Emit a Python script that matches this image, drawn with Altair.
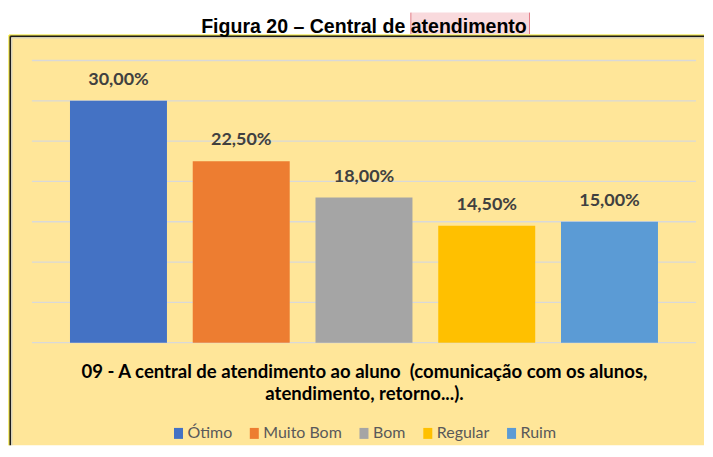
import altair as alt
import pandas as pd

categories = ["Ótimo", "Muito Bom", "Bom", "Regular", "Ruim"]
values = [0.30, 0.225, 0.18, 0.145, 0.15]
colors = ["#4472C4", "#ED7D31", "#A5A5A5", "#FFC000", "#5B9BD5"]
figure_title = "Figura 20 – Central de atendimento"
axis_title = ["09 - A central de atendimento ao aluno\u00a0 (comunicação com os alunos,",
              "atendimento, retorno...)."]
y_ticks = [0, 0.05, 0.10, 0.15, 0.20, 0.25, 0.30, 0.35]

W, H = 666, 283

df = pd.DataFrame({"cat": categories, "v": values})
grid_df = pd.DataFrame({"t": y_ticks})
one = pd.DataFrame({"d": [0]})

y_scale = alt.Scale(domain=[0, 0.35], nice=False, zero=True)

# panel (extends to right/bottom edges of the picture)
panel = alt.Chart(one).mark_rect(fill="#FFE699").encode(
    x=alt.value(-23), x2=alt.value(674), y=alt.value(-25.5), y2=alt.value(386))
edge_y_top = alt.Chart(one).mark_rule(color="#EDE000", strokeWidth=1).encode(
    x=alt.value(-23), x2=alt.value(674), y=alt.value(-25.5))
edge_x_left = alt.Chart(one).mark_rule(color="#EDE000", strokeWidth=1).encode(
    x=alt.value(-23), y=alt.value(-25.5), y2=alt.value(386))
edge_b_top = alt.Chart(one).mark_rule(color="#1c1c1c", strokeWidth=1.6).encode(
    x=alt.value(-21.7), x2=alt.value(674), y=alt.value(-24.2))
edge_b_left = alt.Chart(one).mark_rule(color="#1c1c1c", strokeWidth=1.6).encode(
    x=alt.value(-21.7), y=alt.value(-24.2), y2=alt.value(386))
edge_g_top = alt.Chart(one).mark_rule(color="#D8D4C0", strokeWidth=1.4).encode(
    x=alt.value(-20.2), x2=alt.value(674), y=alt.value(-22.7))
edge_g_left = alt.Chart(one).mark_rule(color="#D8D4C0", strokeWidth=1.4).encode(
    x=alt.value(-20.2), y=alt.value(-22.7), y2=alt.value(386))

hl = alt.Chart(one).mark_rect(fill="#F9DADD").encode(
    x=alt.value(380), x2=alt.value(499), y=alt.value(-48), y2=alt.value(-26.5))
hl_l = alt.Chart(one).mark_rule(color="#E27C88", strokeWidth=1).encode(
    x=alt.value(380), y=alt.value(-48), y2=alt.value(-26.5))
hl_r = alt.Chart(one).mark_rule(color="#E27C88", strokeWidth=1).encode(
    x=alt.value(499), y=alt.value(-48), y2=alt.value(-26.5))

title_txt = alt.Chart(one).mark_text(
    font="Liberation Sans", fontWeight="bold", fontSize=19.6, align="center",
    baseline="alphabetic", color="#000000").encode(
    x=alt.value(W / 2), y=alt.value(-28), text=alt.value(figure_title))

grid = alt.Chart(grid_df).mark_rule(color="#D9D9D9", strokeWidth=1.3).encode(
    y=alt.Y("t:Q", scale=y_scale, axis=None))

x_enc = alt.X("cat:N", sort=categories,
              scale=alt.Scale(paddingInner=0.21, paddingOuter=0.31),
              axis=alt.Axis(labels=False, ticks=False, domain=False, grid=False, zindex=1,
                            title=axis_title, titleFont="Lato", titleFontWeight="bold",
                            titleFontSize=18.6, titleColor="#000000", titleLineHeight=21.7,
                            titleBaseline="alphabetic", titleY=35))
y_enc = alt.Y("v:Q", scale=y_scale, axis=None)

bars = alt.Chart(df).mark_bar().encode(
    x=x_enc, y=y_enc,
    color=alt.Color("cat:N", sort=categories,
                    scale=alt.Scale(domain=categories, range=colors),
                    legend=alt.Legend(orient="none", legendX=139, legendY=366,
                                      direction="horizontal", columns=5, title=None,
                                      symbolType="M-0.82,-1H0.82V1H-0.82Z",
                                      symbolSize=121, symbolStrokeWidth=0,
                                      labelFont="Lato", labelFontSize=16,
                                      labelColor="#595959", labelOffset=1,
                                      columnPadding=14, padding=0)))

labels = alt.Chart(df).transform_calculate(
    label="replace(format(datum.v, '.2%'), '.', ',')"
).mark_text(font="Lato", fontWeight="bold", fontSize=18, color="#404040",
            baseline="alphabetic", dy=-16).encode(
    x=alt.X("cat:N", sort=categories), y=alt.Y("v:Q", scale=y_scale), text="label:N")

chart = alt.layer(panel, edge_y_top, edge_x_left, edge_b_top, edge_b_left,
                  edge_g_top, edge_g_left, hl, hl_l, hl_r, title_txt,
                  grid, bars, labels).properties(
    width=W, height=H, padding={"left": 0, "top": 3, "right": 0, "bottom": 0},
    background="#FFFFFF"
).configure_view(stroke=None)

chart.save("out.html", embed_options={"renderer": "svg", "actions": False})
